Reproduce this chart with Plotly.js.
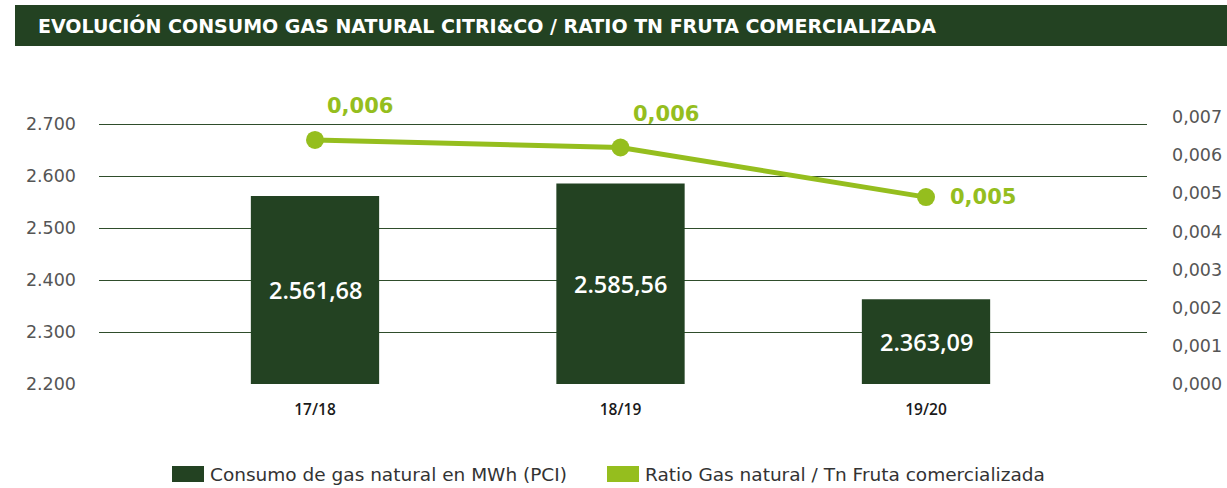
<!DOCTYPE html>
<html><head><meta charset="utf-8">
<script src="https://cdn.plot.ly/plotly-3.0.1.min.js"></script>
<style>html,body{margin:0;padding:0;background:#fff}#chart{width:1227px;height:488px}</style>
</head><body><div id="chart"></div>
<script>
const categories = ["17/18", "18/19", "19/20"];
const consumoMWh = [2561.68, 2585.56, 2363.09];
const ratioGasTn = [0.0064, 0.0062, 0.0049];
const leftTicks = [2200, 2300, 2400, 2500, 2600, 2700];
const rightTicks = [0, 0.001, 0.002, 0.003, 0.004, 0.005, 0.006, 0.007];
const seriesNames = ["Consumo de gas natural en MWh (PCI)", "Ratio Gas natural / Tn Fruta comercializada"];
const titleText = "EVOLUCIÓN CONSUMO GAS NATURAL CITRI&amp;CO / RATIO TN FRUTA COMERCIALIZADA";

const DARK = "#234222", LIME = "#95be1e", FONT = "DejaVu Sans, Open Sans, sans-serif";
const FONT2 = "Open Sans, DejaVu Sans, sans-serif";
const W = 1227, H = 488, L = 99, R = 1147, T = 117, B = 384;
const px = v => (v - L) / (R - L), py = v => (B - v) / (B - T);
const yMin = leftTicks[0];

const bars = {
  type: "bar", x: categories, y: consumoMWh, name: seriesNames[0],
  marker: {color: DARK}, width: 0.42, textposition: "none",
  showlegend: false, hoverinfo: "x+y"
};
const line = {
  type: "scatter", mode: "lines+markers", x: categories, y: ratioGasTn, yaxis: "y2",
  name: seriesNames[1], line: {color: LIME, width: 5}, marker: {color: LIME, size: 18},
  showlegend: false
};

const fmtRatio = v => v.toFixed(3).replace(".", ",");
const fmtMWh = v => {
  const [i, d] = v.toFixed(2).split(".");
  return i.replace(/\B(?=(\d{3})+(?!\d))/g, ".") + "," + d;
};
const annotations = [];
consumoMWh.forEach((v, i) => annotations.push({
  x: categories[i], y: (yMin + v) / 2, xref: "x", yref: "y", text: fmtMWh(v), showarrow: false,
  xanchor: "center", yanchor: "middle",
  font: {color: "#ffffff", size: 23.5, family: FONT2, weight: 600}
}));
ratioGasTn.forEach((v, i) => annotations.push({
  x: categories[i], y: v, xref: "x", yref: "y2", text: fmtRatio(v), showarrow: false,
  xanchor: "left", yanchor: i < 2 ? "bottom" : "middle",
  xshift: i < 2 ? 10 : 22, yshift: i < 2 ? 20 : 0,
  font: {color: LIME, size: 21, family: FONT, weight: 600}
}));
annotations.push(
  {xref: "paper", yref: "paper", x: px(208), y: py(474), xanchor: "left", yanchor: "middle",
   text: seriesNames[0], showarrow: false, font: {size: 18.5, color: "#333", family: FONT}},
  {xref: "paper", yref: "paper", x: px(643), y: py(474), xanchor: "left", yanchor: "middle",
   text: seriesNames[1], showarrow: false, font: {size: 18.5, color: "#333", family: FONT}}
);

const shapes = [
  {type: "rect", xref: "paper", yref: "paper", x0: px(15), x1: px(1227), y0: py(46), y1: py(5),
   fillcolor: DARK, line: {width: 0}, layer: "below"},
  {type: "rect", xref: "paper", yref: "paper", x0: px(172), x1: px(204), y0: py(482), y1: py(466),
   fillcolor: DARK, line: {width: 0}},
  {type: "rect", xref: "paper", yref: "paper", x0: px(607), x1: px(639), y0: py(482), y1: py(466),
   fillcolor: LIME, line: {width: 0}}
];

const unit = 305.5, c0 = 315;
const layout = {
  width: W, height: H, separators: ",.",
  margin: {l: L, r: W - R, t: T, b: H - B, pad: 0},
  paper_bgcolor: "#fff", plot_bgcolor: "#fff",
  font: {family: FONT},
  title: {text: "<b>" + titleText + "</b>", x: 38 / W, xanchor: "left", xref: "container",
          y: 1 - 26 / H, yanchor: "middle", yref: "container",
          font: {color: "#fff", size: 19, family: FONT}},
  xaxis: {type: "category", range: [(L - c0) / unit, (R - c0) / unit], showgrid: false,
          zeroline: false, showline: false, ticks: "", ticklabelstandoff: 14,
          tickfont: {size: 15.5, color: "#1a1a1a", family: FONT2, weight: 600}},
  yaxis: {range: [yMin, yMin + (B - T) / 52 * 100], tickvals: leftTicks, tickformat: ",d",
          showgrid: true, gridcolor: "#2f4d2b", gridwidth: 1, zeroline: false, showline: false,
          ticks: "", ticklabelstandoff: 22, tickfont: {size: 17.5, color: "#555", family: FONT}},
  yaxis2: {overlaying: "y", side: "right", range: [0, 0.007], tickvals: rightTicks, tickformat: ".3f",
           showgrid: false, zeroline: false, showline: false, ticks: "", ticklabelstandoff: 24,
           tickfont: {size: 17.5, color: "#555", family: FONT}},
  bargap: 0.5, showlegend: false, annotations: annotations, shapes: shapes
};
Plotly.newPlot("chart", [bars, line], layout, {displayModeBar: false, staticPlot: true});
</script></body></html>
